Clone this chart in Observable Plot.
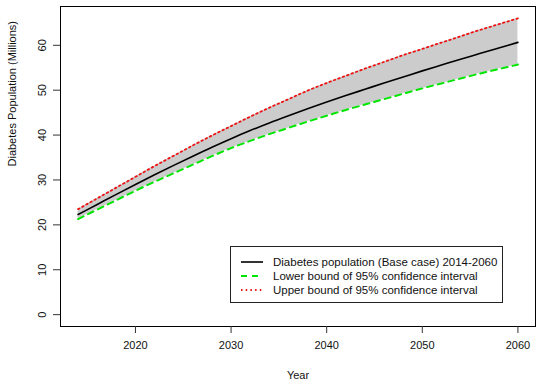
<!DOCTYPE html>
<html>
<head>
<meta charset="utf-8">
<script src="https://cdn.jsdelivr.net/npm/d3@7"></script>
<script src="https://cdn.jsdelivr.net/npm/@observablehq/plot@0.6"></script>
<style>
  html, body { margin: 0; padding: 0; background: white; }
  #wrap { position: relative; width: 554px; height: 387px; font-family: 'Liberation Sans', Arial, Helvetica, sans-serif; }
  #legend { position: absolute; left: 230px; top: 246px; width: 271px; height: 55px; border: 1px solid #222; background: white; font-size: 11.5px; color: #111; }
  #legend .row { position: absolute; left: 0; height: 14px; line-height: 14px; white-space: nowrap; }
  #legend svg { position: absolute; left: 9px; top: 0; }
  #legend span { position: absolute; left: 42px; top: 0; }
</style>
</head>
<body>
<div id="wrap"></div>
<script>
const years   = [2014, 2016, 2018, 2020, 2022, 2024, 2026, 2028, 2030, 2032, 2034, 2036, 2038, 2040, 2042, 2044, 2046, 2048, 2050, 2052, 2054, 2056, 2058, 2060];
const central = [22.3, 24.55, 26.8, 29.0, 31.15, 33.25, 35.3, 37.3, 39.2, 41.0, 42.7, 44.3, 45.85, 47.35, 48.8, 50.2, 51.6, 52.95, 54.3, 55.6, 56.9, 58.15, 59.4, 60.65];
const lower   = [21.3, 23.4, 25.5, 27.6, 29.6, 31.5, 33.4, 35.3, 37.1, 38.7, 40.2, 41.6, 43.0, 44.3, 45.6, 46.8, 48.0, 49.2, 50.4, 51.5, 52.6, 53.7, 54.7, 55.7];
const upper   = [23.5, 25.9, 28.3, 30.7, 33.1, 35.4, 37.7, 39.9, 42.0, 44.1, 46.1, 48.0, 49.9, 51.6, 53.2, 54.8, 56.3, 57.8, 59.2, 60.6, 62.0, 63.4, 64.7, 66.0];
const xTicks  = [2020, 2030, 2040, 2050, 2060];
const yTicks  = [0, 10, 20, 30, 40, 50, 60];
const legendLabels = [
  "Diabetes population (Base case) 2014-2060",
  "Lower bound of 95% confidence interval",
  "Upper bound of 95% confidence interval"
];

const rows = years.map((y, i) => ({year: y, central: central[i], lower: lower[i], upper: upper[i]}));

// R-style 4% axis expansion
const xr = [d3.min(years), d3.max(years)];
const yr = [0, d3.max(upper)];
const xPad = (xr[1] - xr[0]) * 0.04, yPad = (yr[1] - yr[0]) * 0.04;

const chart = Plot.plot({
  width: 554,
  height: 387,
  marginLeft: 60,
  marginRight: 19,
  marginTop: 6,
  marginBottom: 61,
  x: {domain: [xr[0] - xPad, xr[1] + xPad]},
  y: {domain: [yr[0] - yPad, yr[1] + yPad]},
  style: {fontFamily: "'Liberation Sans', Arial, Helvetica, sans-serif", fontSize: "11px", background: "white", color: "#111"},
  marks: [
    Plot.areaY(rows, {x: "year", y1: "lower", y2: "upper", fill: "#cccccc", curve: "monotone-x"}),
    Plot.lineY(rows, {x: "year", y: "lower", stroke: "#00e600", strokeWidth: 2, strokeDasharray: "6,5", curve: "monotone-x"}),
    Plot.lineY(rows, {x: "year", y: "upper", stroke: "#ee1111", strokeWidth: 1.8, strokeDasharray: "1.5,3.2", curve: "monotone-x"}),
    Plot.lineY(rows, {x: "year", y: "central", stroke: "black", strokeWidth: 1.6, curve: "monotone-x"}),
    Plot.frame({stroke: "black", strokeOpacity: 1}),
    Plot.axisX(xTicks, {anchor: "bottom", tickSize: 7, tickPadding: 8, label: null, tickFormat: d => String(d), fontSize: 11, stroke: "#333"}),
    Plot.axisY(yTicks, {anchor: "left", tickSize: 7, tickPadding: 8, tickRotate: -90, label: null, fontSize: 11, stroke: "#333"}),
    Plot.text(["Year"], {frameAnchor: "bottom", dy: 49, lineAnchor: "middle", fontSize: 11}),
    Plot.text(["Diabetes Population (Millions)"], {frameAnchor: "left", dx: -48, rotate: -90, lineAnchor: "middle", fontSize: 11})
  ]
});

const wrap = document.getElementById("wrap");
wrap.appendChild(chart);

// Legend (R-style, inside the plot region)
const legend = document.createElement("div");
legend.id = "legend";
const styles = [
  {stroke: "black", dash: null, w: 1.6},
  {stroke: "#00e600", dash: "6,5", w: 2},
  {stroke: "#ee1111", dash: "1.5,3.2", w: 1.8}
];
legendLabels.forEach((lab, i) => {
  const row = document.createElement("div");
  row.className = "row";
  row.style.top = (8 + i * 14) + "px";
  row.style.width = "100%";
  const s = styles[i];
  row.innerHTML = `<svg width="24" height="14"><line x1="1" x2="23" y1="7" y2="7" stroke="${s.stroke}" stroke-width="${s.w}" ${s.dash ? `stroke-dasharray="${s.dash}"` : ""}/></svg><span>${lab}</span>`;
  legend.appendChild(row);
});
wrap.appendChild(legend);
</script>
</body>
</html>
